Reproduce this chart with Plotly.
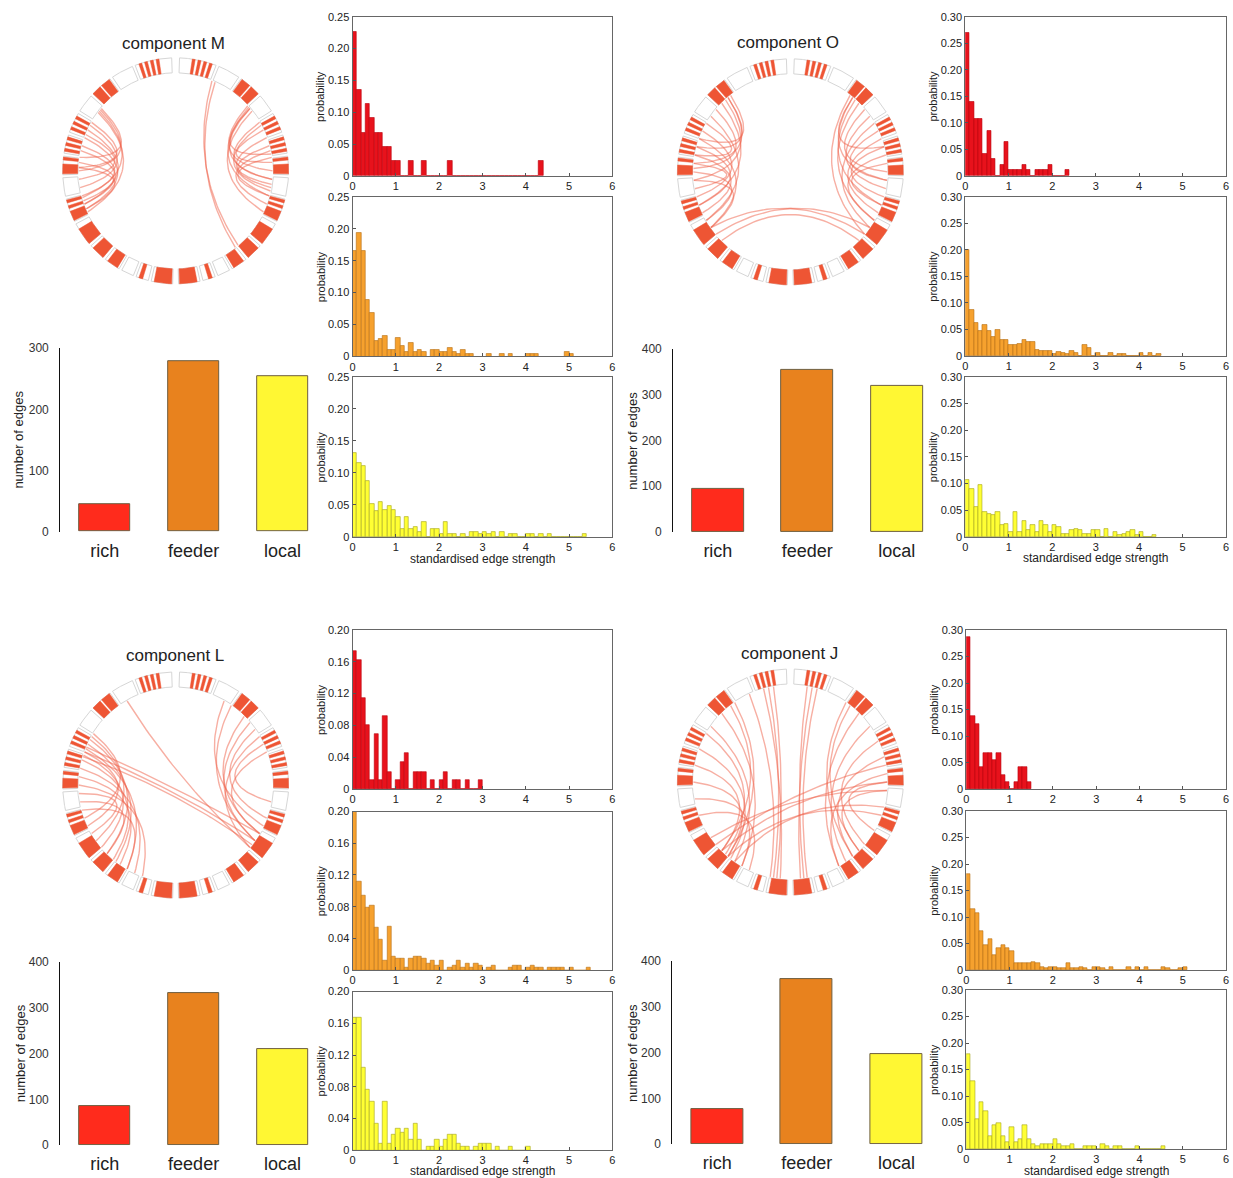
import numpy as np
import plotly.graph_objects as go

FONT = "Arial, Liberation Sans, sans-serif"

# ---------------- data ----------------
CATEGORIES = ["rich", "feeder", "local"]
EDGES_M = [45, 278, 254]
EDGES_O = [94, 354, 319]
EDGES_L = [85, 332, 210]
EDGES_J = [76, 361, 197]

BIN_WIDTH = 0.1
HIST_M_RICH = [0.227, 0.136, 0.068, 0.114, 0.091, 0.068, 0.068, 0.045, 0.045, 0.023,
               0.023, 0, 0, 0.023, 0, 0, 0.023, 0, 0, 0,
               0, 0, 0.023, 0, 0, 0, 0, 0, 0, 0,
               0, 0, 0, 0, 0, 0, 0, 0, 0, 0,
               0, 0, 0, 0.023]
HIST_M_FEEDER = [0.166, 0.194, 0.166, 0.089, 0.068, 0.025, 0.028, 0.032, 0.011, 0.011,
                 0.029, 0.016, 0.007, 0.021, 0.007, 0.011, 0.007, 0, 0.011, 0.011,
                 0.007, 0.007, 0.014, 0.007, 0.004, 0.011, 0.004, 0.004, 0, 0,
                 0, 0.004, 0, 0, 0.004, 0, 0.004, 0, 0, 0,
                 0.004, 0.004, 0.004, 0, 0, 0, 0, 0, 0, 0.007,
                 0.004]
HIST_M_LOCAL = [0.132, 0.115, 0.111, 0.087, 0.051, 0.040, 0.055, 0.043, 0.048, 0.043,
                0.032, 0.012, 0.032, 0.012, 0.016, 0.008, 0.024, 0, 0.012, 0.012,
                0.004, 0.024, 0.004, 0.004, 0, 0.004, 0, 0.008, 0.008, 0.004,
                0.008, 0.004, 0.008, 0, 0.008, 0, 0.004, 0.004, 0, 0,
                0.004, 0.004, 0, 0.004, 0, 0.004, 0, 0, 0, 0,
                0, 0, 0, 0.004]
HIST_O_RICH = [0.270, 0.139, 0.107, 0.107, 0.042, 0.085, 0.032, 0, 0.021, 0.064,
               0.011, 0.011, 0.011, 0.021, 0.011, 0, 0.011, 0.011, 0.011, 0.021,
               0, 0, 0, 0.011]
HIST_O_FEEDER = [0.200, 0.087, 0.063, 0.047, 0.058, 0.047, 0.036, 0.050, 0.030, 0.030,
                 0.021, 0.020, 0.023, 0.030, 0.027, 0.027, 0.011, 0.009, 0.009, 0.009,
                 0.004, 0.008, 0.006, 0.004, 0.009, 0.006, 0, 0.020, 0.015, 0,
                 0.006, 0, 0, 0.006, 0, 0.003, 0.003, 0, 0, 0,
                 0.006, 0, 0.006, 0, 0.003]
HIST_O_LOCAL = [0.107, 0.091, 0.056, 0.097, 0.047, 0.044, 0.041, 0.047, 0.022, 0.025,
                0.009, 0.047, 0.009, 0.031, 0.014, 0.022, 0.009, 0.031, 0.022, 0.009,
                0.022, 0.019, 0.006, 0.006, 0.013, 0.016, 0.013, 0.006, 0.006, 0.013,
                0.013, 0, 0.016, 0, 0.009, 0.003, 0.006, 0.009, 0.013, 0.003,
                0.009, 0, 0, 0.003]
HIST_L_RICH = [0.174, 0.162, 0.115, 0.080, 0.011, 0.069, 0.011, 0.092, 0.022, 0,
               0.011, 0.034, 0.045, 0, 0.022, 0.022, 0.022, 0, 0.011, 0,
               0.011, 0.022, 0, 0.011, 0.011, 0, 0.011, 0, 0, 0.011]
HIST_L_FEEDER = [0.200, 0.112, 0.094, 0.079, 0.082, 0.054, 0.039, 0.012, 0.055, 0.017,
                 0.015, 0.015, 0.003, 0.015, 0.017, 0.017, 0.015, 0.008, 0.012, 0.006,
                 0.012, 0, 0.003, 0.006, 0.012, 0.003, 0.008, 0.003, 0.008, 0.006,
                 0, 0.003, 0.006, 0, 0, 0, 0.003, 0.006, 0.006, 0,
                 0.003, 0.006, 0.003, 0.003, 0, 0.003, 0.003, 0.003, 0.003, 0,
                 0.003, 0, 0, 0, 0.003]
HIST_L_LOCAL = [0.167, 0.167, 0.104, 0.076, 0.061, 0.033, 0.008, 0.061, 0.008, 0.019,
                0.027, 0.022, 0.027, 0.013, 0.033, 0.013, 0, 0.004, 0.004, 0.013,
                0.004, 0.013, 0.019, 0.019, 0.008, 0.004, 0.004, 0, 0.004, 0.008,
                0.008, 0.008, 0, 0.004, 0, 0, 0.004, 0, 0, 0,
                0.004]
HIST_J_RICH = [0.287, 0.137, 0.122, 0.041, 0.068, 0.068, 0.054, 0.068, 0.027, 0.014,
               0, 0.014, 0.041, 0.041, 0.014]
HIST_J_FEEDER = [0.181, 0.116, 0.107, 0.074, 0.047, 0.058, 0.028, 0.041, 0.047, 0.042,
                 0.035, 0.013, 0.014, 0.013, 0.014, 0.016, 0.014, 0.006, 0.003, 0.006,
                 0.006, 0.003, 0.003, 0.013, 0.003, 0.003, 0.006, 0.003, 0, 0.006,
                 0.006, 0.003, 0, 0.006, 0, 0, 0, 0.006, 0, 0.006,
                 0, 0.006, 0, 0, 0, 0.006, 0.003, 0, 0, 0.003,
                 0.006]
HIST_J_LOCAL = [0.180, 0.129, 0.056, 0.088, 0.072, 0.025, 0.046, 0.050, 0.025, 0.014,
                0.041, 0.014, 0.019, 0.045, 0.019, 0.009, 0.005, 0.009, 0.009, 0.009,
                0.019, 0.009, 0.005, 0.005, 0.009, 0, 0, 0.005, 0.005, 0.005,
                0, 0.009, 0.005, 0, 0.005, 0.005, 0, 0, 0, 0.005,
                0, 0, 0, 0, 0, 0.005]

# ring of brain regions (left hemisphere, degrees; right hemisphere is mirrored)
RING_BOX_START = [92, 112.5, 125.5, 138.5, 149.5, 161.5, 172.5, 183.5, 194.5, 208, 221.5, 231.5, 241.5, 249.5, 257.5]
RING_BOX_END = [111, 124, 137, 148, 160, 171, 182, 193, 206.5, 220, 230, 240, 248, 256, 268.5]
RING_RED_START = [98.5, 101.5, 104.5, 107.5, 126, 132, 151, 154, 157, 162.5, 165.5, 168.5,
                  173, 176.5, 195, 198, 201, 211, 223, 233, 251, 259]
RING_RED_END = [100, 103, 106, 109, 131, 137, 152.5, 155.5, 158.5, 164, 167, 170,
                174.5, 181.5, 196.5, 199.5, 206, 220, 230, 239, 253, 268]

# chords (endpoint angles, degrees)
CHORDS_M_FROM = [140, 141, 142, 143, 150, 152, 155, 158, 160, 165, 168, 175, 178,
                 40, 40, 41, 42, 38, 30, 28, 25, 20, 15, 12, 8, 68, 66]
CHORDS_M_TO = [172, 180, 196, 205, 178, 190, 200, 185, 203, 195, 200, 198, 203,
               10, -5, -15, 0, -25, -5, -12, 5, -10, -8, -20, -15, -50, -52]
CHORDS_O_FROM = [130, 130, 132, 135, 140, 145, 150, 155, 160, 165, 170, 175, 180, 185, 128,
                 50, 50, 48, 45, 40, 35, 30, 25, 20, 15, 10, 5, 52, 215, 220, 225]
CHORDS_O_TO = [165, 175, 185, 200, 178, 210, 170, 195, 215, 200, 205, 190, 210, 215, 160,
               15, -5, -20, -30, 0, -10, -35, -5, -25, -15, -30, -20, -40, -40, -35, -45]
CHORDS_L_FROM = [150, 152, 155, 158, 160, 162, 165, 148, 170, 175, 180, 185, 190, 195,
                 160, 163, 157, 45, 40, 35, 30, 55, 60, 25, 20, 120]
CHORDS_L_TO = [215, 225, 232, 240, 205, 220, 230, 200, 245, 235, 250, 210, 225, 240,
               -35, -38, -30, -30, -35, -20, -40, -35, -25, -10, -30, -40]
CHORDS_J_FROM = [100, 103, 106, 125, 128, 135, 145, 150, 160, 170, 180, 190, 200, 115,
                 80, 77, 74, 55, 52, 45, 35, 25, 15, 5, -5, 0, 215, 220, 225, 230, 235]
CHORDS_J_TO = [262, 260, 264, 230, 225, 240, 235, 228, 232, 225, 230, 240, 245, 258,
               278, 276, 280, 310, 315, 300, 305, 320, 310, 300, 315, 330, -5, 10, 0, -20, -15]

# ---------------- styling / page geometry ----------------
WF, HF = 1237, 1186           # figure size in page pixels
SX, OX = 0.9956, 2.3          # observed page->photo mapping (x)
SY, OY = 0.9879, 7.2          # observed page->photo mapping (y)


def PX(x):
    return (x - OX) / SX


def PY(y):
    return (y - OY) / SY


R_OUT, R_IN = 113, 98
RING_RED = "#EE5534"
CHORD_COLOR = "rgba(240,96,72,0.5)"
BAR_COLORS = ["#FF2B1C", "#E8821E", "#FFF733"]
HIST_STYLE = [("#E8121C", "#B8000C"), ("#F6A12E", "#B56F16"), ("#FFFF33", "#A3A322")]

fig = go.Figure()
layout = {}
annotations = []
counter = [0]


def new_axes(x0, x1, y0, y1, xa, ya):
    counter[0] += 1
    n = counter[0]
    s = "" if n == 1 else str(n)
    layout["xaxis" + s] = dict(xa, domain=[PX(x0) / WF, PX(x1) / WF], anchor="y" + s)
    layout["yaxis" + s] = dict(ya, domain=[1 - PY(y1) / HF, 1 - PY(y0) / HF], anchor="x" + s)
    return "x" + s, "y" + s


def note(text, x, y, size, angle=0, color="#222"):
    annotations.append(dict(text=text, x=PX(x) / WF, y=1 - PY(y) / HF, xref="paper", yref="paper",
                            showarrow=False, textangle=angle, xanchor="center", yanchor="middle",
                            font=dict(family=FONT, size=size, color=color)))


def arc_polys(starts, ends):
    xs, ys = [], []
    segs = list(zip(starts, ends)) + [(180 - e, 180 - s) for s, e in zip(starts, ends)]
    for a0, a1 in segs:
        t = np.radians(np.linspace(a0, a1, max(4, int(abs(a1 - a0) * 2))))
        px = np.concatenate([R_OUT * np.cos(t), R_IN * np.cos(t[::-1]), [R_OUT * np.cos(t[0])]])
        py = np.concatenate([R_OUT * np.sin(t), R_IN * np.sin(t[::-1]), [R_OUT * np.sin(t[0])]])
        xs += list(px) + [None]
        ys += list(py) + [None]
    return xs, ys


def chord_paths(froms, tos):
    xs, ys = [], []
    r = R_IN - 1
    for a, b in zip(froms, tos):
        ra, rb = np.radians(a), np.radians(b)
        p0 = np.array([r * np.cos(ra), r * np.sin(ra)])
        p2 = np.array([r * np.cos(rb), r * np.sin(rb)])
        d = abs((a - b + 180) % 360 - 180)
        mid = np.array([np.cos(ra) + np.cos(rb), np.sin(ra) + np.sin(rb)])
        nm = np.linalg.norm(mid)
        c = np.zeros(2) if nm < 1e-6 else mid / nm * r * 0.35 * (1 - d / 180)
        t = np.linspace(0, 1, 40)[:, None]
        pts = (1 - t) ** 2 * p0 + 2 * (1 - t) * t * c + t ** 2 * p2
        xs += list(pts[:, 0]) + [None]
        ys += list(pts[:, 1]) + [None]
    return xs, ys


def draw_circle(cx, cy, froms, tos):
    hw = 130
    xr, yr = new_axes(cx - hw, cx + hw, cy - hw, cy + hw,
                      dict(range=[-hw, hw], visible=False, fixedrange=True),
                      dict(range=[-hw, hw], visible=False, fixedrange=True))
    cxs, cys = chord_paths(froms, tos)
    fig.add_trace(go.Scatter(x=cxs, y=cys, mode="lines", line=dict(color=CHORD_COLOR, width=1.4),
                             xaxis=xr, yaxis=yr, hoverinfo="skip", showlegend=False))
    bx, by = arc_polys(RING_BOX_START, RING_BOX_END)
    fig.add_trace(go.Scatter(x=bx, y=by, mode="lines", fill="toself", fillcolor="white",
                             line=dict(color="#D6D6D6", width=1), xaxis=xr, yaxis=yr,
                             hoverinfo="skip", showlegend=False))
    rx, ry = arc_polys(RING_RED_START, RING_RED_END)
    fig.add_trace(go.Scatter(x=rx, y=ry, mode="lines", fill="toself", fillcolor=RING_RED,
                             line=dict(color=RING_RED, width=0.5), xaxis=xr, yaxis=yr,
                             hoverinfo="skip", showlegend=False))


def draw_bars(x0, x1, y0, y1, edges, ymax, title_x):
    step = 100
    xr, yr = new_axes(x0, x1, y0, y1,
                      dict(type="category", range=[-0.5, 2.5], showline=False, ticks="",
                           showgrid=False, zeroline=False, ticklabelstandoff=6,
                           tickfont=dict(family=FONT, size=18, color="#222")),
                      dict(range=[0, ymax], showline=True, linecolor="#111", linewidth=1,
                           ticks="", showgrid=False, zeroline=False,
                           tickvals=list(range(0, ymax + 1, step)), ticklabelstandoff=8,
                           tickfont=dict(family=FONT, size=12, color="#333")))
    fig.add_trace(go.Bar(x=CATEGORIES, y=edges, width=0.58,
                         marker=dict(color=BAR_COLORS, line=dict(color="#6E5E40", width=1)),
                         xaxis=xr, yaxis=yr, hoverinfo="skip", showlegend=False))
    note("number of edges", title_x, (y0 + y1) / 2, 13, -90)


def draw_hist(x0, x1, y0, y1, vals, ymax, yticks, style, prob_x, xtitle_y=None):
    fill, edge = style
    ticktext = ["0" if v == 0 else f"{v:.2f}" for v in yticks]
    xr, yr = new_axes(x0, x1, y0, y1,
                      dict(range=[0, 6], tickvals=list(range(7)), ticks="inside", ticklen=3,
                           tickcolor="#555", showline=True, mirror=True, linecolor="#666",
                           linewidth=1, showgrid=False, zeroline=False,
                           tickfont=dict(family=FONT, size=11, color="#222")),
                      dict(range=[0, ymax], tickvals=yticks, ticktext=ticktext, ticks="inside",
                           ticklen=3, tickcolor="#555", showline=True, mirror=True,
                           linecolor="#666", linewidth=1, showgrid=False, zeroline=False,
                           tickfont=dict(family=FONT, size=11, color="#222")))
    centers = [BIN_WIDTH * (i + 0.5) for i in range(len(vals))]
    fig.add_trace(go.Bar(x=centers, y=vals, width=BIN_WIDTH,
                         marker=dict(color=fill, line=dict(color=edge, width=0.6)),
                         xaxis=xr, yaxis=yr, hoverinfo="skip", showlegend=False))
    note("probability", prob_x, (y0 + y1) / 2, 11, -90)
    if xtitle_y is not None:
        note("standardised edge strength", (x0 + x1) / 2, xtitle_y, 12)


YT_25 = [0, 0.05, 0.10, 0.15, 0.20, 0.25]
YT_30 = [0, 0.05, 0.10, 0.15, 0.20, 0.25, 0.30]
YT_20 = [0, 0.04, 0.08, 0.12, 0.16, 0.20]

panels = [
    dict(name="component M", title=(173, 44), circle=(175, 171), chords=(CHORDS_M_FROM, CHORDS_M_TO),
         bars=(59.5, 326.5, 348.3, 531.7), edges=EDGES_M, bmax=300, btitle=18,
         hx=(352, 612), hys=[(17, 176), (197, 356.5), (377, 537)],
         hists=[HIST_M_RICH, HIST_M_FEEDER, HIST_M_LOCAL], hmax=0.25, ht=YT_25, px=320, xt=559),
    dict(name="component O", title=(788, 43), circle=(790, 172), chords=(CHORDS_O_FROM, CHORDS_O_TO),
         bars=(672.75, 941.25, 349, 532), edges=EDGES_O, bmax=400, btitle=632,
         hx=(965, 1226), hys=[(17, 176), (197, 356), (377, 537)],
         hists=[HIST_O_RICH, HIST_O_FEEDER, HIST_O_LOCAL], hmax=0.30, ht=YT_30, px=933, xt=558),
    dict(name="component L", title=(174, 656), circle=(175, 785), chords=(CHORDS_L_FROM, CHORDS_L_TO),
         bars=(59.5, 326.5, 962, 1145), edges=EDGES_L, bmax=400, btitle=20,
         hx=(352, 612), hys=[(630, 789), (811.5, 970), (991.5, 1150)],
         hists=[HIST_L_RICH, HIST_L_FEEDER, HIST_L_LOCAL], hmax=0.20, ht=YT_20, px=320, xt=1171),
    dict(name="component J", title=(789, 654), circle=(790, 782), chords=(CHORDS_J_FROM, CHORDS_J_TO),
         bars=(672, 941, 961, 1144), edges=EDGES_J, bmax=400, btitle=632,
         hx=(966, 1226), hys=[(630, 789), (811, 970), (990, 1149)],
         hists=[HIST_J_RICH, HIST_J_FEEDER, HIST_J_LOCAL], hmax=0.30, ht=YT_30, px=933, xt=1171),
]

for p in panels:
    draw_circle(p["circle"][0], p["circle"][1], *p["chords"])
    note(p["name"], p["title"][0], p["title"][1], 17)
    bx0, bx1, by0, by1 = p["bars"]
    draw_bars(bx0, bx1, by0, by1, p["edges"], p["bmax"], p["btitle"])
    for k, (vals, (hy0, hy1)) in enumerate(zip(p["hists"], p["hys"])):
        draw_hist(p["hx"][0], p["hx"][1], hy0, hy1, vals, p["hmax"], p["ht"], HIST_STYLE[k],
                  p["px"], p["xt"] if k == 2 else None)

fig.update_layout(width=WF, height=HF, margin=dict(l=0, r=0, t=0, b=0, pad=0),
                  paper_bgcolor="white", plot_bgcolor="white", bargap=0,
                  annotations=annotations, font=dict(family=FONT), **layout)

PAGE_FIX = (
    "var s=document.createElement('style');"
    "s.textContent='html,body{margin:0!important;padding:0!important;overflow:hidden!important;}"
    " body>div{font-size:0;line-height:0;}';"
    "document.head.appendChild(s);"
)
fig.write_html("out.html", config={"displayModeBar": False}, post_script=PAGE_FIX)
